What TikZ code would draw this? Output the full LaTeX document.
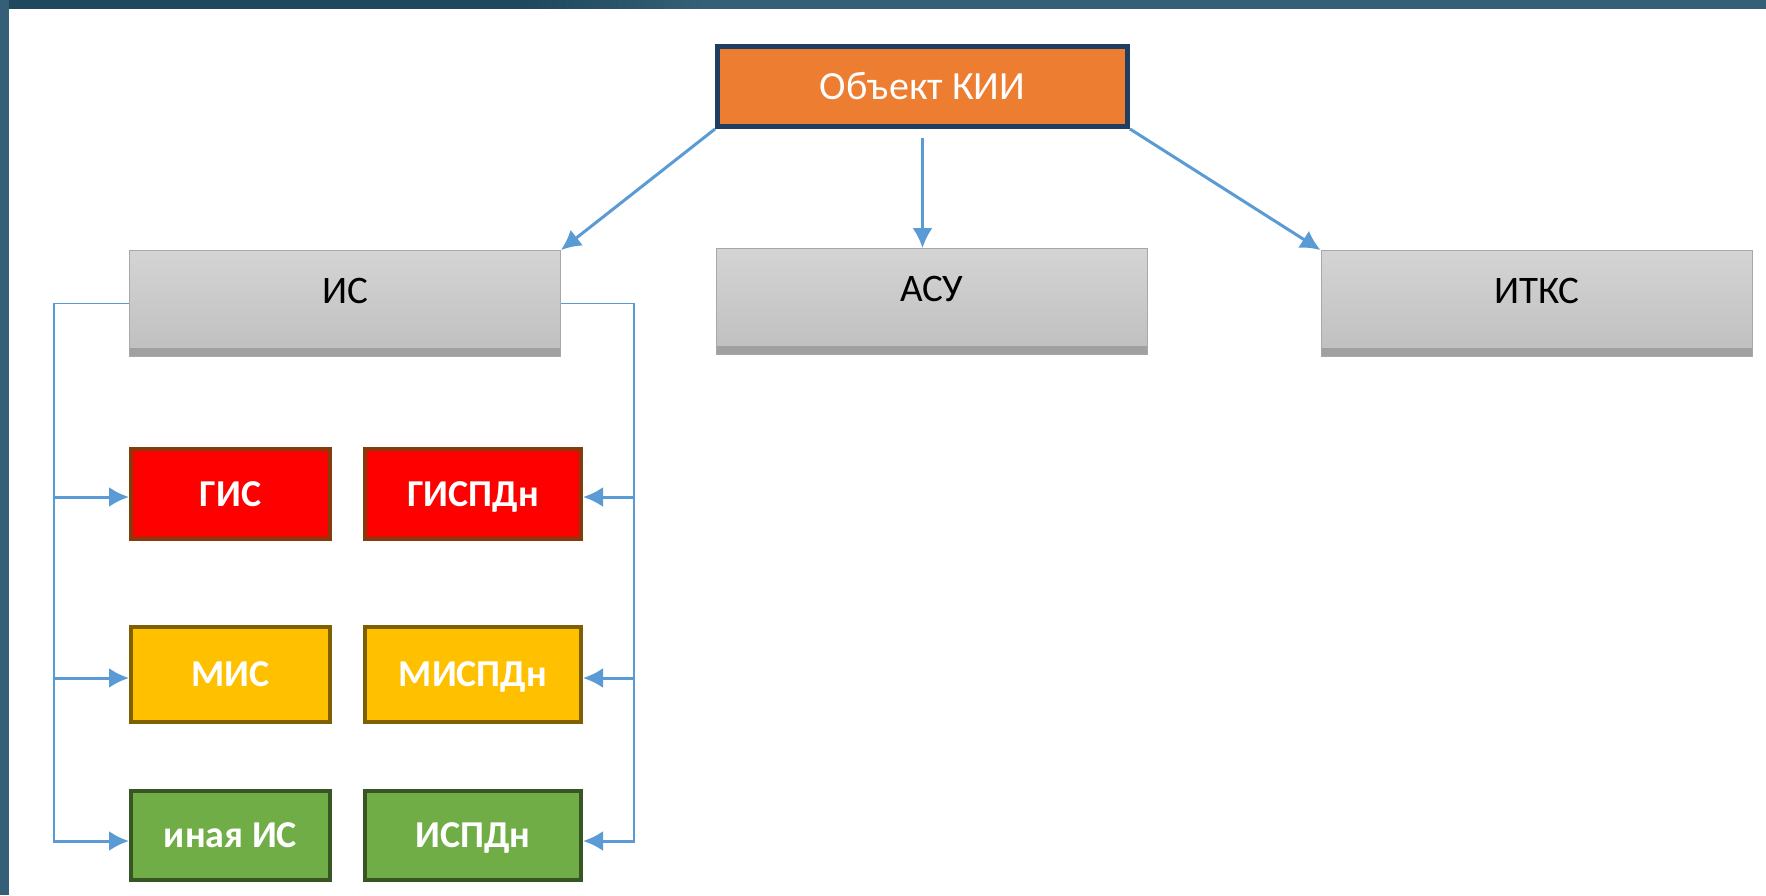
\documentclass[tikz,border=0pt]{standalone}
\usepackage{fontspec}
\setmainfont{Carlito}
\usetikzlibrary{arrows.meta}

\definecolor{frameDark}{HTML}{1F485D}
\definecolor{frameLight}{HTML}{345F76}
\definecolor{linkBlue}{HTML}{5B9BD5}
\definecolor{kiiOrange}{HTML}{ED7D31}
\definecolor{kiiEdge}{HTML}{203D62}
\definecolor{greyTop}{HTML}{D4D4D4}
\definecolor{greyBot}{HTML}{BFBFBF}
\definecolor{greyEdge}{HTML}{A8A8A8}
\definecolor{greyFoot}{HTML}{A0A0A0}
\definecolor{gisRed}{HTML}{FF0000}
\definecolor{gisEdge}{HTML}{843C0C}
\definecolor{misAmber}{HTML}{FFC000}
\definecolor{misEdge}{HTML}{7F6000}
\definecolor{isGreen}{HTML}{70AD47}
\definecolor{isEdge}{HTML}{375623}

\begin{document}
\begin{tikzpicture}[x=1pt, y=-1pt,
  sysbox/.style={minimum width=431pt, minimum height=106pt, inner sep=0pt,
    top color=greyTop, bottom color=greyBot, draw=greyEdge, line width=0.8pt,
    font=\fontsize{39}{40}\selectfont, text height=25pt, text depth=26pt,
    path picture={\fill[greyFoot] (path picture bounding box.south west)
      rectangle ([yshift=9pt]path picture bounding box.south east);}},
  kiibox/.style={minimum width=410pt, minimum height=80pt, inner sep=0pt,
    fill=kiiOrange, draw=kiiEdge, line width=5pt, text=white,
    font=\fontsize{40}{41}\selectfont},
  colbox/.style 2 args={inner sep=0pt, fill=#1, draw=#2, line width=4pt,
    text=white, font=\bfseries\fontsize{38}{39}\selectfont,
    text height=24pt, text depth=0pt},
  link/.style={draw=linkBlue, line width=3pt, ->, >={Latex[length=20pt,width=20pt]}},
  bus/.style={draw=linkBlue, line width=1.5pt}]

\def \busl {54}   % left bus
\def \busr {634}  % right bus
\def \busend {843}

\useasboundingbox (0,0) rectangle (1766,895);

% frame of the slide
\fill[white] (0,0) rectangle (1766,895);
\fill[frameLight] (0,0) rectangle (1766,9);
\foreach \s [evaluate=\s as \p using int(5*\s)] in {0,...,19}
  \fill[frameLight!\p!frameDark] ({520+9*\s},0) rectangle ({530+9*\s},9);
\fill[frameDark] (0,0) rectangle (521,9);
\fill[frameLight] (0,0) rectangle (9,895);

\node[kiibox] (kii) at (922.5,86.5) {Объект КИИ};
\node[sysbox] (is) at (345,303.5) {ИС};
\node[sysbox] (asu) at (932,301.5) {АСУ};
\node[sysbox] (itks) at (1536.5,303.5) {ИТКС};

\draw[link] (kii.south west) -- (is.north east);
\draw[link] ([yshift=-9pt]kii.south) -- (kii.south |- asu.north);
\draw[link] (kii.south east) -- (itks.north west);

\coordinate (busl-end) at (\busl,\busend);
\coordinate (busr-end) at (\busr,\busend);
\draw[bus] (is.west) -| (busl-end);
\draw[bus] (is.east) -| (busr-end);

\foreach \row/\lname/\rname/\fc/\ec/\yc/\h/\ya in
  {gis/ГИС/ГИСПДн/gisRed/gisEdge/494/90/497,
   mis/МИС/МИСПДн/misAmber/misEdge/674/95/678,
   oth/иная ИС/ИСПДн/isGreen/isEdge/835/89/841}
{
  \node[colbox={\fc}{\ec}, minimum width=199pt, minimum height=\h pt] (\row-l) at (230.5,\yc) {\lname};
  \node[colbox={\fc}{\ec}, minimum width=216pt, minimum height=\h pt] (\row-r) at (473,\yc) {\rname};
  \coordinate (\row-bl) at (\busl,\ya);
  \coordinate (\row-br) at (\busr,\ya);
  \draw[link] (\row-bl) -- (\row-bl -| \row-l.west);
  \draw[link] (\row-br) -- (\row-br -| \row-r.east);
}
\end{tikzpicture}
\end{document}
